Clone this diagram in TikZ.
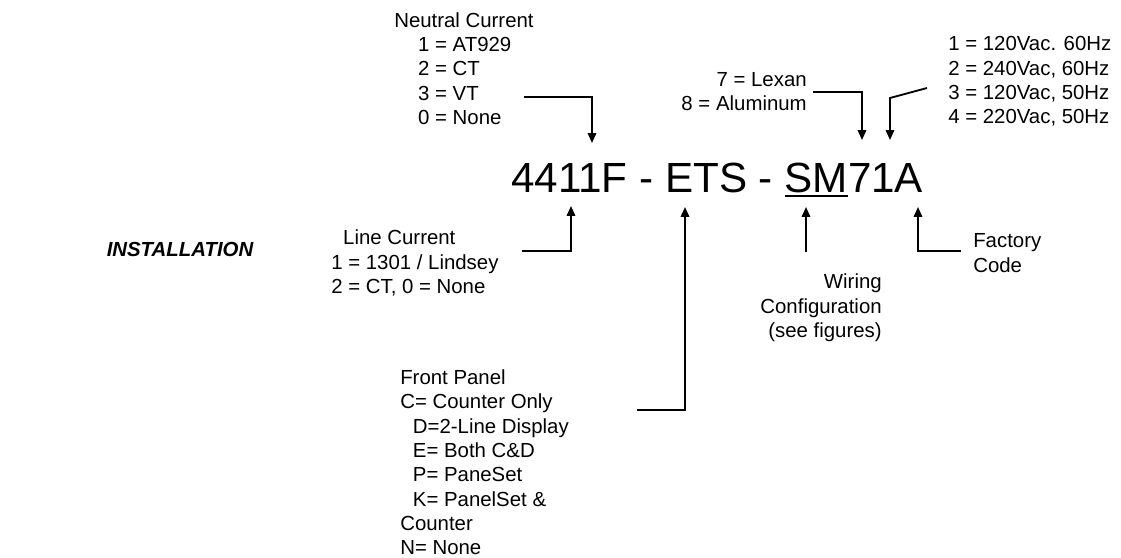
\documentclass[tikz,border=0pt]{standalone}
\usepackage{fontspec}
\setmainfont{Liberation Sans}
\usetikzlibrary{arrows.meta}
\newsavebox{\ulpart}
\newcommand{\partul}[1]{\sbox{\ulpart}{#1}\rlap{\rule[-3.9pt]{\wd\ulpart}{2.1pt}}\usebox{\ulpart}}
\tikzset{
	codetext/.style={
		font=\fontsize{30pt}{36pt}\selectfont, inner sep=0pt
	},
	notetext/.style={
		font=\fontsize{14.5pt}{17.3pt}\selectfont, inner sep=0pt
	},
	titletext/.style={
		font=\fontsize{14.5pt}{17pt}\selectfont\bfseries\itshape, inner sep=0pt
	},
	arrow/.style={
		-{Triangle[length=7pt, width=6pt]}, line width=1.3pt, color=black
	}
}

\begin{document}
\begin{tikzpicture}[x=0.025cm, y=-0.025cm]
	\useasboundingbox (0,0) rectangle (1121,558);
	
	%% ═══════════════════════════════
	%%  PART NUMBER
	%% ═══════════════════════════════
	\node[codetext, anchor=base west] (code) at (511,192) {4411F - ETS - \partul{SM}71A};
	
	\node[titletext] (install) at (180,249) {INSTALLATION};
	
	%% ═══════════════════════════════
	%%  UPPER NOTES
	%% ═══════════════════════════════
	\node[notetext, align=left, anchor=west] (neutral) at (394,68.5)
	{Neutral Current\\\hspace*{17pt}1 = AT929\\\hspace*{17pt}2 = CT\\\hspace*{17pt}3 = VT\\\hspace*{17pt}0 = None};
	
	\node[notetext, align=right, anchor=east] (housing) at (807,91.5)
	{7 = Lexan\\8 = Aluminum};
	
	\node[notetext, align=left, anchor=west] (voltage) at (948,81.5)
	{1 = 120Vac. 60Hz\\2 = 240Vac, 60Hz\\3 = 120Vac, 50Hz\\4 = 220Vac, 50Hz};
	
	%% ═══════════════════════════════
	%%  LOWER NOTES
	%% ═══════════════════════════════
	\node[notetext, align=left, anchor=west] (linecur) at (331,263)
	{\hspace*{8.5pt}Line Current\\1 = 1301 / Lindsey\\2 = CT, 0 = None};
	
	\node[notetext, align=right, anchor=east] (wiring) at (882,308)
	{Wiring\\Configuration\\(see figures)};
	
	\node[notetext, align=left, anchor=west] (factory) at (973,253)
	{Factory\\Code};
	
	\node[notetext, align=left, anchor=west] (panel) at (400,462.5)
	{Front Panel\\C= Counter Only\\\hspace*{9pt}D=2-Line Display\\\hspace*{9pt}E= Both C\&D\\\hspace*{9pt}P= PaneSet\\\hspace*{9pt}K= PanelSet \&\\Counter\\N= None};
	
	%% ═══════════════════════════════
	%%  CONNECTOR ENDS
	%% ═══════════════════════════════
	\coordinate (neutralA)  at (524,97);
	\coordinate (neutralT)  at (592,143);
	\coordinate (housingA)  at (813,92);
	\coordinate (housingT)  at (862,140);
	\coordinate (voltageA)  at (927,88);
	\coordinate (voltageB)  at (890,98);
	\coordinate (voltageT)  at (890,140);
	\coordinate (linecurA)  at (522,251);
	\coordinate (linecurT)  at (571,206);
	\coordinate (panelA)    at (637,410);
	\coordinate (panelT)    at (685,207);
	\coordinate (wiringA)   at (806,252);
	\coordinate (wiringT)   at (806,207);
	\coordinate (factoryA)  at (961,251);
	\coordinate (factoryT)  at (918,207);
	
	%% ═══════════════════════════════
	%%  ARROWS
	%% ═══════════════════════════════
	
	% Notes above -> part number
	\draw[arrow] (neutralA) -| (neutralT);
	\draw[arrow] (housingA) -| (housingT);
	\draw[arrow] (voltageA) -- (voltageB) -- (voltageT);
	
	% Notes below -> part number
	\draw[arrow] (linecurA) -| (linecurT);
	\draw[arrow] (panelA) -| (panelT);
	\draw[arrow] (wiringA) -- (wiringT);
	\draw[arrow] (factoryA) -| (factoryT);
\end{tikzpicture}
\end{document}
